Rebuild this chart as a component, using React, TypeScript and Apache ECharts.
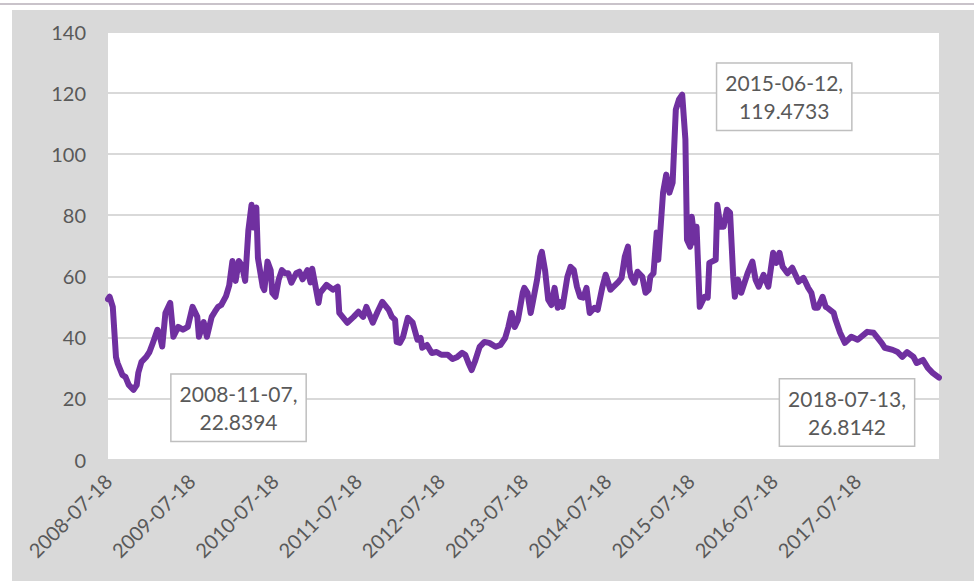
import React, { useEffect, useRef } from "react";
import * as echarts from "echarts";

const weeks: number[] = [
  0, 1, 3, 5, 6, 9, 11, 13, 16, 18, 19, 21, 24, 26, 28, 31, 32, 34, 36, 39,
  41, 44, 47, 50, 53, 56, 57, 60, 62, 65, 67, 69, 71, 74, 76, 78, 80, 82, 84, 86,
  88, 90, 91, 93, 94, 97, 98, 100, 102, 103, 105, 107, 109, 111, 113, 115, 118, 120, 122, 125,
  127, 128, 130, 132, 133, 137, 141, 144, 145, 150, 154, 157, 160, 162, 166, 169, 172, 176, 178, 180,
  181, 183, 185, 188, 191, 194, 196, 197, 200, 203, 206, 209, 213, 216, 219, 222, 224, 226, 228, 230,
  233, 236, 239, 243, 246, 249, 251, 253, 255, 257, 260, 261, 263, 265, 266, 269, 271, 272, 274, 276,
  278, 280, 282, 283, 285, 288, 290, 292, 294, 296, 298, 300, 302, 305, 307, 310, 312, 315, 317, 320,
  322, 324, 326, 327, 328, 330, 332, 335, 337, 339, 340, 342, 344, 345, 348, 350, 352, 354, 356, 358,
  360, 362, 363, 365, 366, 368, 369, 371, 374, 376, 377, 381, 382, 384, 386, 388, 390, 392, 393, 395,
  397, 401, 404, 406, 408, 411, 414, 417, 419, 421, 423, 426, 429, 433, 436, 439, 441, 443, 445, 448,
  450, 451, 455, 456, 459, 462, 466, 470, 476, 480, 485, 487, 492, 495, 498, 501, 505, 507, 511, 514,
  517, 521,
];
const values: number[] = [
  52.5, 53.3, 50, 33.6, 31.6, 27.7, 27, 24.4, 22.8394, 24.4, 28.4, 32, 33.6, 35.2, 38, 42.5, 41.5, 37, 48, 51.3,
  40.2, 43.4, 42.5, 43.4, 50, 46.7, 40.2, 45, 40.2, 46.7, 48.4, 50, 50.6, 53.5, 57, 65, 58.5, 65, 63.5, 58.5,
  75, 83.4, 76, 82.5, 66, 56.6, 55.5, 64.8, 62, 54.6, 53.3, 58.9, 62, 61, 61, 57.9, 61, 61.5, 59, 62,
  58, 62.5, 57, 51.3, 54.6, 57.2, 55.6, 56.6, 48, 44.8, 46.7, 48.4, 46.7, 50, 44.8, 48.4, 51.6, 49, 46.7, 45.7,
  38.5, 38.2, 40.2, 46.4, 44.8, 39.2, 39.8, 36.6, 37.5, 34.9, 35.2, 34.3, 34.3, 32.9, 33.6, 34.9, 34.3, 31.6, 29.3, 32,
  36.9, 38.5, 38.2, 36.9, 37.5, 39.8, 43.4, 48, 43.4, 45.7, 54.6, 56.2, 54.6, 48, 50.6, 58.9, 66.4, 68, 62, 52.3,
  50.6, 56.2, 49.7, 51.6, 50, 59.8, 63.1, 62.1, 56.6, 53.3, 53, 56.2, 48, 49.7, 49, 56.6, 60.5, 55.6, 56.6, 58.2,
  59.5, 66.4, 69.7, 62.1, 59.8, 57.9, 61.5, 59.8, 54.6, 55.6, 59.8, 61, 74.3, 65.4, 87.4, 93.3, 87.4, 90.7, 114.6, 117.9,
  119.4733, 104.8, 72, 69.7, 79.5, 71, 76.2, 50, 53.3, 53, 64.4, 65.4, 83.4, 76.2, 76.2, 81.8, 80.8, 59.8, 53.3, 58.9,
  54.6, 61, 64.8, 58.9, 56.6, 60.5, 56.6, 67.7, 64.4, 67.7, 63.1, 61, 62.8, 58.2, 59.5, 56.2, 54.6, 49.7, 49.7, 53.3,
  50, 49.7, 48, 46, 41.5, 38.2, 40.2, 39.2, 41.8, 41.5, 38.2, 36.6, 35.9, 35.2, 33.6, 35.2, 33.6, 31.6, 32.6, 30,
  28.4, 26.8142,
];

const xTickLabels: string[] = [
  "2008-07-18", "2009-07-18", "2010-07-18", "2011-07-18", "2012-07-18",
  "2013-07-18", "2014-07-18", "2015-07-18", "2016-07-18", "2017-07-18",
];
const yTicks: number[] = [0, 20, 40, 60, 80, 100, 120, 140];

// Annotated points: week index, date label, value label
const notes: { week: number; date: string; value: number }[] = [
  { week: 16, date: "2008-11-07", value: 22.8394 },
  { week: 360, date: "2015-06-12", value: 119.4733 },
  { week: 521, date: "2018-07-13", value: 26.8142 },
];

const DAYS_PER_YEAR = 365.25;
const TOTAL_DAYS = 3647;
const FONT = "Lato, 'Open Sans', sans-serif";
const TEXT = "#595959";

export default function App() {
  const ref = useRef<HTMLDivElement>(null);
  useEffect(() => {
    if (!ref.current) return;
    const chart = echarts.init(ref.current, undefined, { renderer: "svg" });
    const data = weeks.map((w, i) => [w * 7, values[i]]);
    const offsets: [number, number][] = [
      [105, 18],
      [102, 2],
      [-92, 35],
    ];
    chart.setOption({
      animation: false,
      backgroundColor: "#d9d9d9",
      grid: {
        left: 96,
        top: 22,
        width: 831,
        height: 427.5,
        show: true,
        backgroundColor: "#ffffff",
        borderWidth: 0,
      },
      xAxis: {
        type: "value",
        min: 0,
        max: TOTAL_DAYS,
        interval: DAYS_PER_YEAR,
        axisLine: { show: false },
        axisTick: { show: false },
        splitLine: { show: false },
        axisLabel: {
          rotate: 45,
          margin: 18,
          fontFamily: FONT,
          fontSize: 20,
          color: TEXT,
          showMaxLabel: false,
          formatter: (v: number) => {
            const idx = Math.round(v / DAYS_PER_YEAR);
            if (Math.abs(v - idx * DAYS_PER_YEAR) > 1) return "";
            return xTickLabels[idx] ?? "";
          },
        },
      },
      yAxis: {
        type: "value",
        min: yTicks[0],
        max: yTicks[yTicks.length - 1],
        interval: yTicks[1] - yTicks[0],
        axisLine: { show: false },
        axisTick: { show: false },
        splitLine: { lineStyle: { color: "#d9d9d9", width: 2 } },
        axisLabel: {
          margin: 22,
          fontFamily: FONT,
          fontSize: 20,
          color: TEXT,
        },
      },
      series: [
        {
          type: "line",
          data,
          symbol: "none",
          lineStyle: { color: "#7030a0", width: 6, cap: "round", join: "round" },
          markPoint: {
            symbol: "circle",
            symbolSize: 1,
            itemStyle: { color: "rgba(0,0,0,0)" },
            data: notes.map((n, i) => ({
              coord: [n.week * 7, n.value],
              label: {
                show: true,
                position: "inside",
                offset: offsets[i],
                formatter: `${n.date},\n${n.value}`,
                fontFamily: FONT,
                fontSize: 21,
                lineHeight: 28,
                color: TEXT,
                align: "center",
                backgroundColor: "#ffffff",
                borderColor: "#bfbfbf",
                borderWidth: 1.5,
                padding: [5, 8],
              },
            })),
          },
        },
      ],
    });
    return () => chart.dispose();
  }, []);
  return (
    <div style={{ position: "fixed", left: 0, top: 0, width: 974, height: 582, background: "#ffffff" }}>
      <div style={{ position: "absolute", left: 0, top: 3, width: 974, height: 2, background: "#c9c3ca" }} />
      <div ref={ref} style={{ position: "absolute", left: 12, top: 10, width: 962, height: 571 }} />
    </div>
  );
}
